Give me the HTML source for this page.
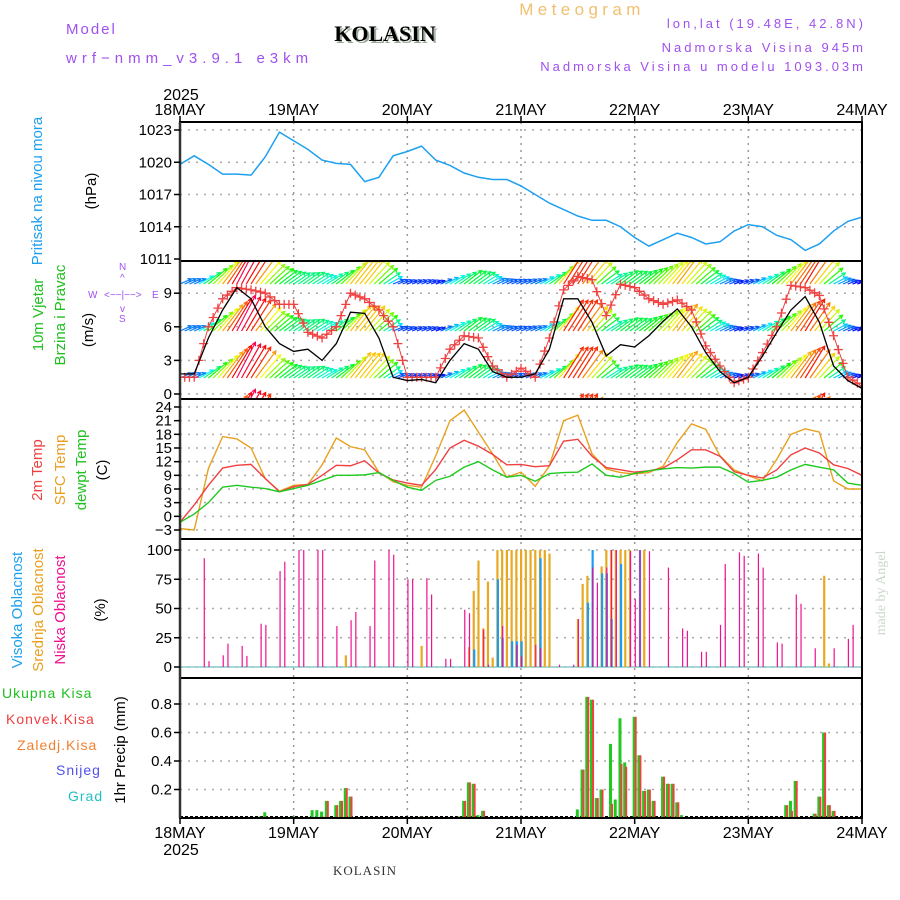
<!DOCTYPE html>
<html><head><meta charset="utf-8">
<style>
html,body{margin:0;padding:0;background:#fff;}
svg{display:block;font-family:"Liberation Sans",sans-serif;}
</style></head>
<body>
<svg id="chart" width="900" height="900" viewBox="0 0 900 900" xmlns="http://www.w3.org/2000/svg">
<g>
<text x="66" y="34" font-size="15" fill="#a050f0" letter-spacing="2">Model</text>
<text x="66" y="63" font-size="15" fill="#a050f0" letter-spacing="5">wrf−nmm_v3.9.1 e3km</text>
<text x="387" y="43" font-size="22" font-weight="bold" font-family="Liberation Serif,serif" fill="#9a9" text-anchor="middle">KOLASIN</text>
<text x="385" y="41" font-size="22" font-weight="bold" font-family="Liberation Serif,serif" fill="#000" text-anchor="middle">KOLASIN</text>
<text x="582" y="15" font-size="17" fill="#f0c070" text-anchor="middle" letter-spacing="4.4">Meteogram</text>
<text x="866" y="28" font-size="13" fill="#a050f0" text-anchor="end" letter-spacing="3">lon,lat (19.48E, 42.8N)</text>
<text x="866" y="52" font-size="13" fill="#a050f0" text-anchor="end" letter-spacing="3">Nadmorska Visina 945m</text>
<text x="866" y="71" font-size="13" fill="#a050f0" text-anchor="end" letter-spacing="3">Nadmorska Visina u modelu 1093.03m</text>
</g>
<g id="grid"></g>
<g id="marks"></g>
<g id="frames"></g>
<g id="axes"></g>
<g font-size="15">
<text transform="translate(42,191) rotate(-90)" text-anchor="middle" fill="#1ea0f0">Pritisak na nivou mora</text>
<text transform="translate(96,191) rotate(-90)" text-anchor="middle" fill="#000">(hPa)</text>
<text transform="translate(43,315) rotate(-90)" text-anchor="middle" fill="#20c020">10m Vjetar</text>
<text transform="translate(65,315) rotate(-90)" text-anchor="middle" fill="#20c020">Brzina i Pravac</text>
<text transform="translate(93,330) rotate(-90)" text-anchor="middle" fill="#000">(m/s)</text>
<g font-size="10" fill="#a050f0">
<text x="88" y="298">W</text><text x="104" y="298">&lt;−−|−−&gt;</text><text x="152" y="298">E</text>
<text x="119" y="270">N</text><text x="120" y="281">^</text><text x="120" y="312">v</text><text x="119" y="322">S</text>
</g>
<text transform="translate(42,470) rotate(-90)" text-anchor="middle" fill="#f04040">2m Temp</text>
<text transform="translate(65,470) rotate(-90)" text-anchor="middle" fill="#e8a020">SFC Temp</text>
<text transform="translate(86,470) rotate(-90)" text-anchor="middle" fill="#20c020">dewpt Temp</text>
<text transform="translate(107,470) rotate(-90)" text-anchor="middle" fill="#000">(C)</text>
<text transform="translate(22,610) rotate(-90)" text-anchor="middle" fill="#1ea0f0">Visoka Oblacnost</text>
<text transform="translate(43,610) rotate(-90)" text-anchor="middle" fill="#e8a020">Srednja Oblacnost</text>
<text transform="translate(65,610) rotate(-90)" text-anchor="middle" fill="#f01090">Niska Oblacnost</text>
<text transform="translate(105,610) rotate(-90)" text-anchor="middle" fill="#000">(%)</text>
<g font-size="14" letter-spacing="1">
<text x="2" y="698" fill="#20c020">Ukupna Kisa</text>
<text x="6" y="724" fill="#f04040">Konvek.Kisa</text>
<text x="17" y="750" fill="#f08030">Zaledj.Kisa</text>
<text x="56" y="775" fill="#5050f0">Snijeg</text>
<text x="68" y="801" fill="#20c0c0">Grad</text>
</g>
<text transform="translate(125,750) rotate(-90)" text-anchor="middle" fill="#000">1hr Precip (mm)</text>
</g>
<text transform="translate(885,593) rotate(-90)" text-anchor="middle" font-size="14" font-family="Liberation Serif,serif" fill="#c8d8c8">made by Angel</text>
<text x="365" y="875" font-size="13" font-family="Liberation Serif,serif" fill="#333" text-anchor="middle" letter-spacing="1">KOLASIN</text>
</svg>
<script>
// ---- data (3-hourly, 49 points from 18MAY 00 to 24MAY 00) ----
const dayLabels = ["18MAY","19MAY","20MAY","21MAY","22MAY","23MAY","24MAY"];
const pressure = [1019.8,1020.6,1019.8,1018.9,1018.9,1018.8,1020.5,1022.8,1022.0,1021.2,1020.2,1019.9,1019.8,1018.2,1018.6,1020.6,1021.0,1021.5,1020.2,1019.7,1019.0,1018.6,1018.4,1018.4,1017.8,1017.0,1016.2,1015.6,1015.0,1014.6,1014.6,1014.0,1013.0,1012.2,1012.8,1013.4,1013.0,1012.4,1012.6,1013.6,1014.2,1014.0,1013.2,1012.8,1011.8,1012.4,1013.6,1014.5,1014.9];
const windSpeed = [1.8,1.8,5,7.5,9.5,8.5,6,4.5,3.8,4,3,4.5,7.3,7.2,5,1.5,1.2,1.3,1.0,3,4.5,4,2,1.5,1.5,1.8,4,8.5,8.5,6.4,3.4,4.4,4.2,5.2,6.5,7.6,6,3.7,2,1,1.5,3.4,5.5,7.5,8.7,6.4,2.5,1.2,0.5];
const windGust = [1.5,1.5,6,8.5,9.5,9.3,9,8,8,5.5,5,6,9,8.5,7.5,6,1.5,1.5,1.5,4,5.2,5.0,2.5,1.5,2.3,1.5,5,9.3,10.5,10.2,7,9.8,9.5,8.5,8,8.4,7.5,4.3,2.5,1,1.5,3.7,6,9.7,9.5,8.8,5.2,1.5,0.7];
const tSfc = [-2.7,-3,10.5,17.5,17,15,8.3,5.5,6.8,7,11.3,17.2,15.3,14.6,9.7,7.6,6.8,6.4,13.3,21,23.3,18.5,13.7,8.6,9.7,6.6,11.1,21,22.2,13.7,10.4,9.6,9.3,9.6,11,16.2,20.3,19.1,13.3,10.2,8.9,7.8,12.5,18,19.2,18.5,7.8,6,6];
const t2m = [-1.3,2.5,6.8,10.6,11.2,11.4,8.3,5.4,6.5,7,9,11.2,11.1,12.2,9.5,8,7.3,6.8,10.3,15,16.7,15.4,13.6,11.3,11.4,10.9,11.1,16.5,16.9,13.2,10.7,10.2,9.7,10,10.6,12.4,14.6,14.6,13.2,9.8,9,8.4,10.2,13.5,15,13.9,11.3,10.5,9];
const tDew = [-1.3,0.5,3,6.4,6.8,6.4,6.1,5.4,6.1,6.8,7.9,9,9,9.1,9.6,7.9,6.4,5.7,7.9,8.8,10.8,12,10.2,8.6,9,7.7,9.4,9.6,9.7,11.5,9,8.6,9.4,10,10.4,10.7,10.6,10.8,10.8,9.4,7.5,7.9,8.6,10.2,11.4,10.8,10.2,7.3,6.8];
// cloud cover (hour index from start, percent)
const lowHours = [5,6,9,10,13,14,17,18,21,22,25,26,29,30,33,36,37,40,41,44,45,48,49,52,53,56,57,60,61,64,65,68,71,72,75,76,80,83,84,87,88,90,91,92,95,96,97,99,103,106,107,110,111,114,115,118,119,122,123,126,127,130,131,134,138,141,142];
const lowCloud = [93,5,10,20,18,9.5,37,36,82,90,100,100,100,100,35,40,47,35,91,100,96,75,75,76,62,7,7,49,46,32,2,35,19,9,19,16,2,2,41,85,72,85,100,100,99,58,100,99,85,33,31,13,13,36,88,98,95,97,85,21,20,62,54,16,16,24,36];
const midHours = [35,51,61,62,63,64,65,66,67,68,69,70,71,72,73,74,75,76,77,78,84,85,86,89,90,91,92,93,94,95,98,136,137];
const midCloud = [10,18,17,65,91,33,73,8,100,100,100,100,100,100,100,100,100,100,100,97,41,71,78,86,100,100,100,100,100,100,100,78,3];
const highHours = [62,67,68,70,71,72,76,86,87,89,90,91,93,97];
const highCloud = [15,75,25,22,22,22,93,55,100,80,80,41,88,100];
// precipitation (hour index, mm)
const precipHours = [17,18,24,28,29,30,31,33,34,35,36,51,59,60,61,62,63,64,84,85,86,87,88,89,91,92,93,94,96,97,98,99,100,102,103,104,105,106,128,129,130,134,135,136,137,138];
const precipTotal = [0.01,0.04,0.01,0.055,0.055,0.045,0.12,0.09,0.12,0.21,0.15,0.01,0.01,0.12,0.25,0.24,0.02,0.05,0.06,0.34,0.85,0.83,0.14,0.2,0.52,0.13,0.7,0.39,0.71,0.44,0.19,0.2,0.12,0.29,0.24,0.24,0.11,0.02,0.09,0.12,0.26,0.03,0.15,0.6,0.09,0.05];
const precipConv = [0,0.01,0,0,0,0.01,0.12,0.09,0.12,0.21,0.15,0.01,0.01,0.12,0.25,0.24,0,0.05,0,0.34,0.85,0.83,0.14,0.2,0.1,0,0.38,0.36,0.71,0.44,0.19,0.2,0.12,0.29,0.24,0.24,0.11,0,0.09,0.05,0.26,0.03,0.15,0.6,0.09,0.05];
const pTicks=[1011,1014,1017,1020,1023], wTicks=[0,3,6,9], tTicks=[-3,0,3,6,9,12,15,18,21,24], cTicks=[0,25,50,75,100], rTicks=[0.2,0.4,0.6,0.8];

const NS="http://www.w3.org/2000/svg";
const X0=180,X1=862,HOURS=144;
const xH=h=>X0+h*(X1-X0)/HOURS;
const xI=i=>xH(i*3);
const yP=p=>259-(p-1011)*10.75;
const yW=s=>394-s*11.2;
const yT=t=>530-(t+3)*4.556;
const yC=c=>667-c*1.17;
const yR=v=>818-v*142.5;
const panels=[{t:122,b:261},{t:261,b:399},{t:399,b:539},{t:539,b:678},{t:678,b:818}];
function mk(tag,attrs,parent){const e=document.createElementNS(NS,tag);for(const k in attrs)e.setAttribute(k,attrs[k]);parent.appendChild(e);return e;}
const grid=document.getElementById('grid'),marks=document.getElementById('marks'),frames=document.getElementById('frames'),axes=document.getElementById('axes');

const defs=mk('defs',{},document.getElementById('chart'));
panels.forEach((p,k)=>{const c=mk('clipPath',{id:'clip'+k},defs);mk('rect',{x:X0,y:p.t,width:X1-X0,height:p.b-p.t},c);});

for(let d=1;d<6;d++){
  const l=mk('line',{x1:xH(d*24),x2:xH(d*24),y1:122,y2:818,stroke:'#999','stroke-width':1.5,'stroke-dasharray':'2,5'},grid);
  
  
}
function hTicks(vals,yf,fmt,p){
  vals.forEach(v=>{
    const y=yf(v);
    if(y>p.t+3&&y<p.b-3){const g=mk('line',{x1:X0,x2:X1,y1:y,y2:y,stroke:'#aaa','stroke-width':1.5,'stroke-dasharray':'2,6'},grid);
    
    }
    mk('line',{x1:X0-6,x2:X0,y1:y,y2:y,stroke:'#000','stroke-width':1.5},axes);
    const t=mk('text',{x:X0-8,y:y+5,'font-size':15,'text-anchor':'end',fill:'#000'},axes);
    t.textContent=fmt(v);
    
    
  });
}
hTicks(pTicks,yP,v=>v,panels[0]);
hTicks(wTicks,yW,v=>v,panels[1]);
hTicks(tTicks,yT,v=>v<0?'−'+(-v):v,panels[2]);
hTicks(cTicks,yC,v=>v,panels[3]);
hTicks(rTicks,yR,v=>v.toFixed(1),panels[4]);

const pl=mk('polyline',{points:pressure.map((v,i)=>xI(i)+','+yP(v)).join(' '),fill:'none',stroke:'#1ea0f0','stroke-width':1.5,'clip-path':'url(#clip0)'},marks);



const wg=mk('g',{'clip-path':'url(#clip1)'},marks);


const rows=[284,331,378,425];
function at(arr,h){const i=Math.min(arr.length-2,Math.floor(h/3)),f=(h-i*3)/3;return arr[i]*(1-f)+arr[i+1]*f;}
for(let h=0;h<=HOURS;h++){
  const s=at(windSpeed,h);
  const hue=((265-s*30)%360+360)%360;
  const col='hsl('+hue+',95%,50%)';
  const len=6+s*3.6, ang=(15+s*5)*Math.PI/180;
  const dx=len*Math.cos(ang), dy=-len*Math.sin(ang);
  rows.forEach(r=>{
    const x=xH(h),y=r,x2=x+dx,y2=y+dy;
    const a1=ang+Math.PI-0.5,a2=ang+Math.PI+0.5;
    mk('path',{d:'M'+x+','+y+'L'+x2+','+y2+'M'+(x2+4*Math.cos(a1))+','+(y2-4*Math.sin(a1))+'L'+x2+','+y2+'L'+(x2+4*Math.cos(a2))+','+(y2-4*Math.sin(a2)),stroke:col,'stroke-width':1.2,fill:'none'},wg);
  });
}
const gl=mk('polyline',{points:windGust.map((v,i)=>xI(i)+','+yW(v)).join(' '),fill:'none',stroke:'#f04040','stroke-width':1,'clip-path':'url(#clip1)'},marks);


for(let h=0;h<=HOURS;h++){
  const v=at(windGust,h),x=xH(h),y=yW(v);
  const m=mk('path',{d:'M'+(x-4.5)+','+y+'h9M'+x+','+(y-4.5)+'v9',stroke:'#f04040','stroke-width':1.3,'clip-path':'url(#clip1)'},marks);
  
  
}
const wl=mk('polyline',{points:windSpeed.map((v,i)=>xI(i)+','+yW(v)).join(' '),fill:'none',stroke:'#000','stroke-width':1.3,'clip-path':'url(#clip1)'},marks);



[[tSfc,'#e8a020','sfc-temp-line'],[t2m,'#f04040','2m-temp-line'],[tDew,'#20c820','dewpoint-line']].forEach(([arr,c,n])=>{
  const e=mk('polyline',{points:arr.map((v,i)=>xI(i)+','+yT(v)).join(' '),fill:'none',stroke:c,'stroke-width':1.4,'clip-path':'url(#clip2)'},marks);
  
  
});

mk('line',{x1:X0,x2:X1,y1:667,y2:667,stroke:'#8cc','stroke-width':1.5},marks);
function cloudBars(hours,vals,col,w,off,name){
  hours.forEach((h,i)=>{
    const y=yC(vals[i]);
    const r=mk('rect',{x:xH(h)+off,y:y,width:w,height:667-y,fill:col},marks);
    
    
  });
}
cloudBars(midHours,midCloud,'#e8a820',2.2,-1,'mid-cloud-bar');
cloudBars(highHours,highCloud,'#1e9cf0',2.2,-0.5,'high-cloud-bar');
cloudBars(lowHours,lowCloud,'#f01090',1.2,0,'low-cloud-bar');

mk('line',{x1:X0,x2:X1,y1:817,y2:817,stroke:'#000','stroke-width':2,'stroke-dasharray':'3,2'},marks);
precipHours.forEach((h,i)=>{
  const x=xH(h);
  const yt=yR(precipTotal[i]);
  const g=mk('rect',{x:x-2,y:yt,width:3,height:818-yt,fill:'#20c820'},marks);
  
  
  if(precipConv[i]>0){const yc=yR(precipConv[i]);
  const r=mk('rect',{x:x,y:yc,width:2,height:818-yc,fill:'#f04040'},marks);
  
  }
});

panels.forEach(p=>{mk('rect',{x:X0,y:p.t,width:X1-X0,height:p.b-p.t,fill:'none',stroke:'#000','stroke-width':2},frames);});
mk('line',{x1:X0,x2:X0,y1:122,y2:818,stroke:'#333','stroke-width':2.5},frames);

dayLabels.forEach((d,k)=>{
  const x=xH(k*24);
  mk('line',{x1:x,x2:x,y1:116,y2:122,stroke:'#000','stroke-width':1.5},axes);
  mk('line',{x1:x,x2:x,y1:818,y2:824,stroke:'#000','stroke-width':1.5},axes);
  const t=mk('text',{x:x,y:115,'font-size':16,'text-anchor':'middle',fill:'#000'},axes);
  t.textContent=d;
  
  
  const b=mk('text',{x:x,y:838,'font-size':16,'text-anchor':'middle',fill:'#000'},axes);
  b.textContent=d;
  
  
});
const y1=mk('text',{x:181,y:100,'font-size':16,'text-anchor':'middle',fill:'#000'},axes);y1.textContent='2025';


const y2=mk('text',{x:181,y:855,'font-size':16,'text-anchor':'middle',fill:'#000'},axes);y2.textContent='2025';


</script>
</body></html>
